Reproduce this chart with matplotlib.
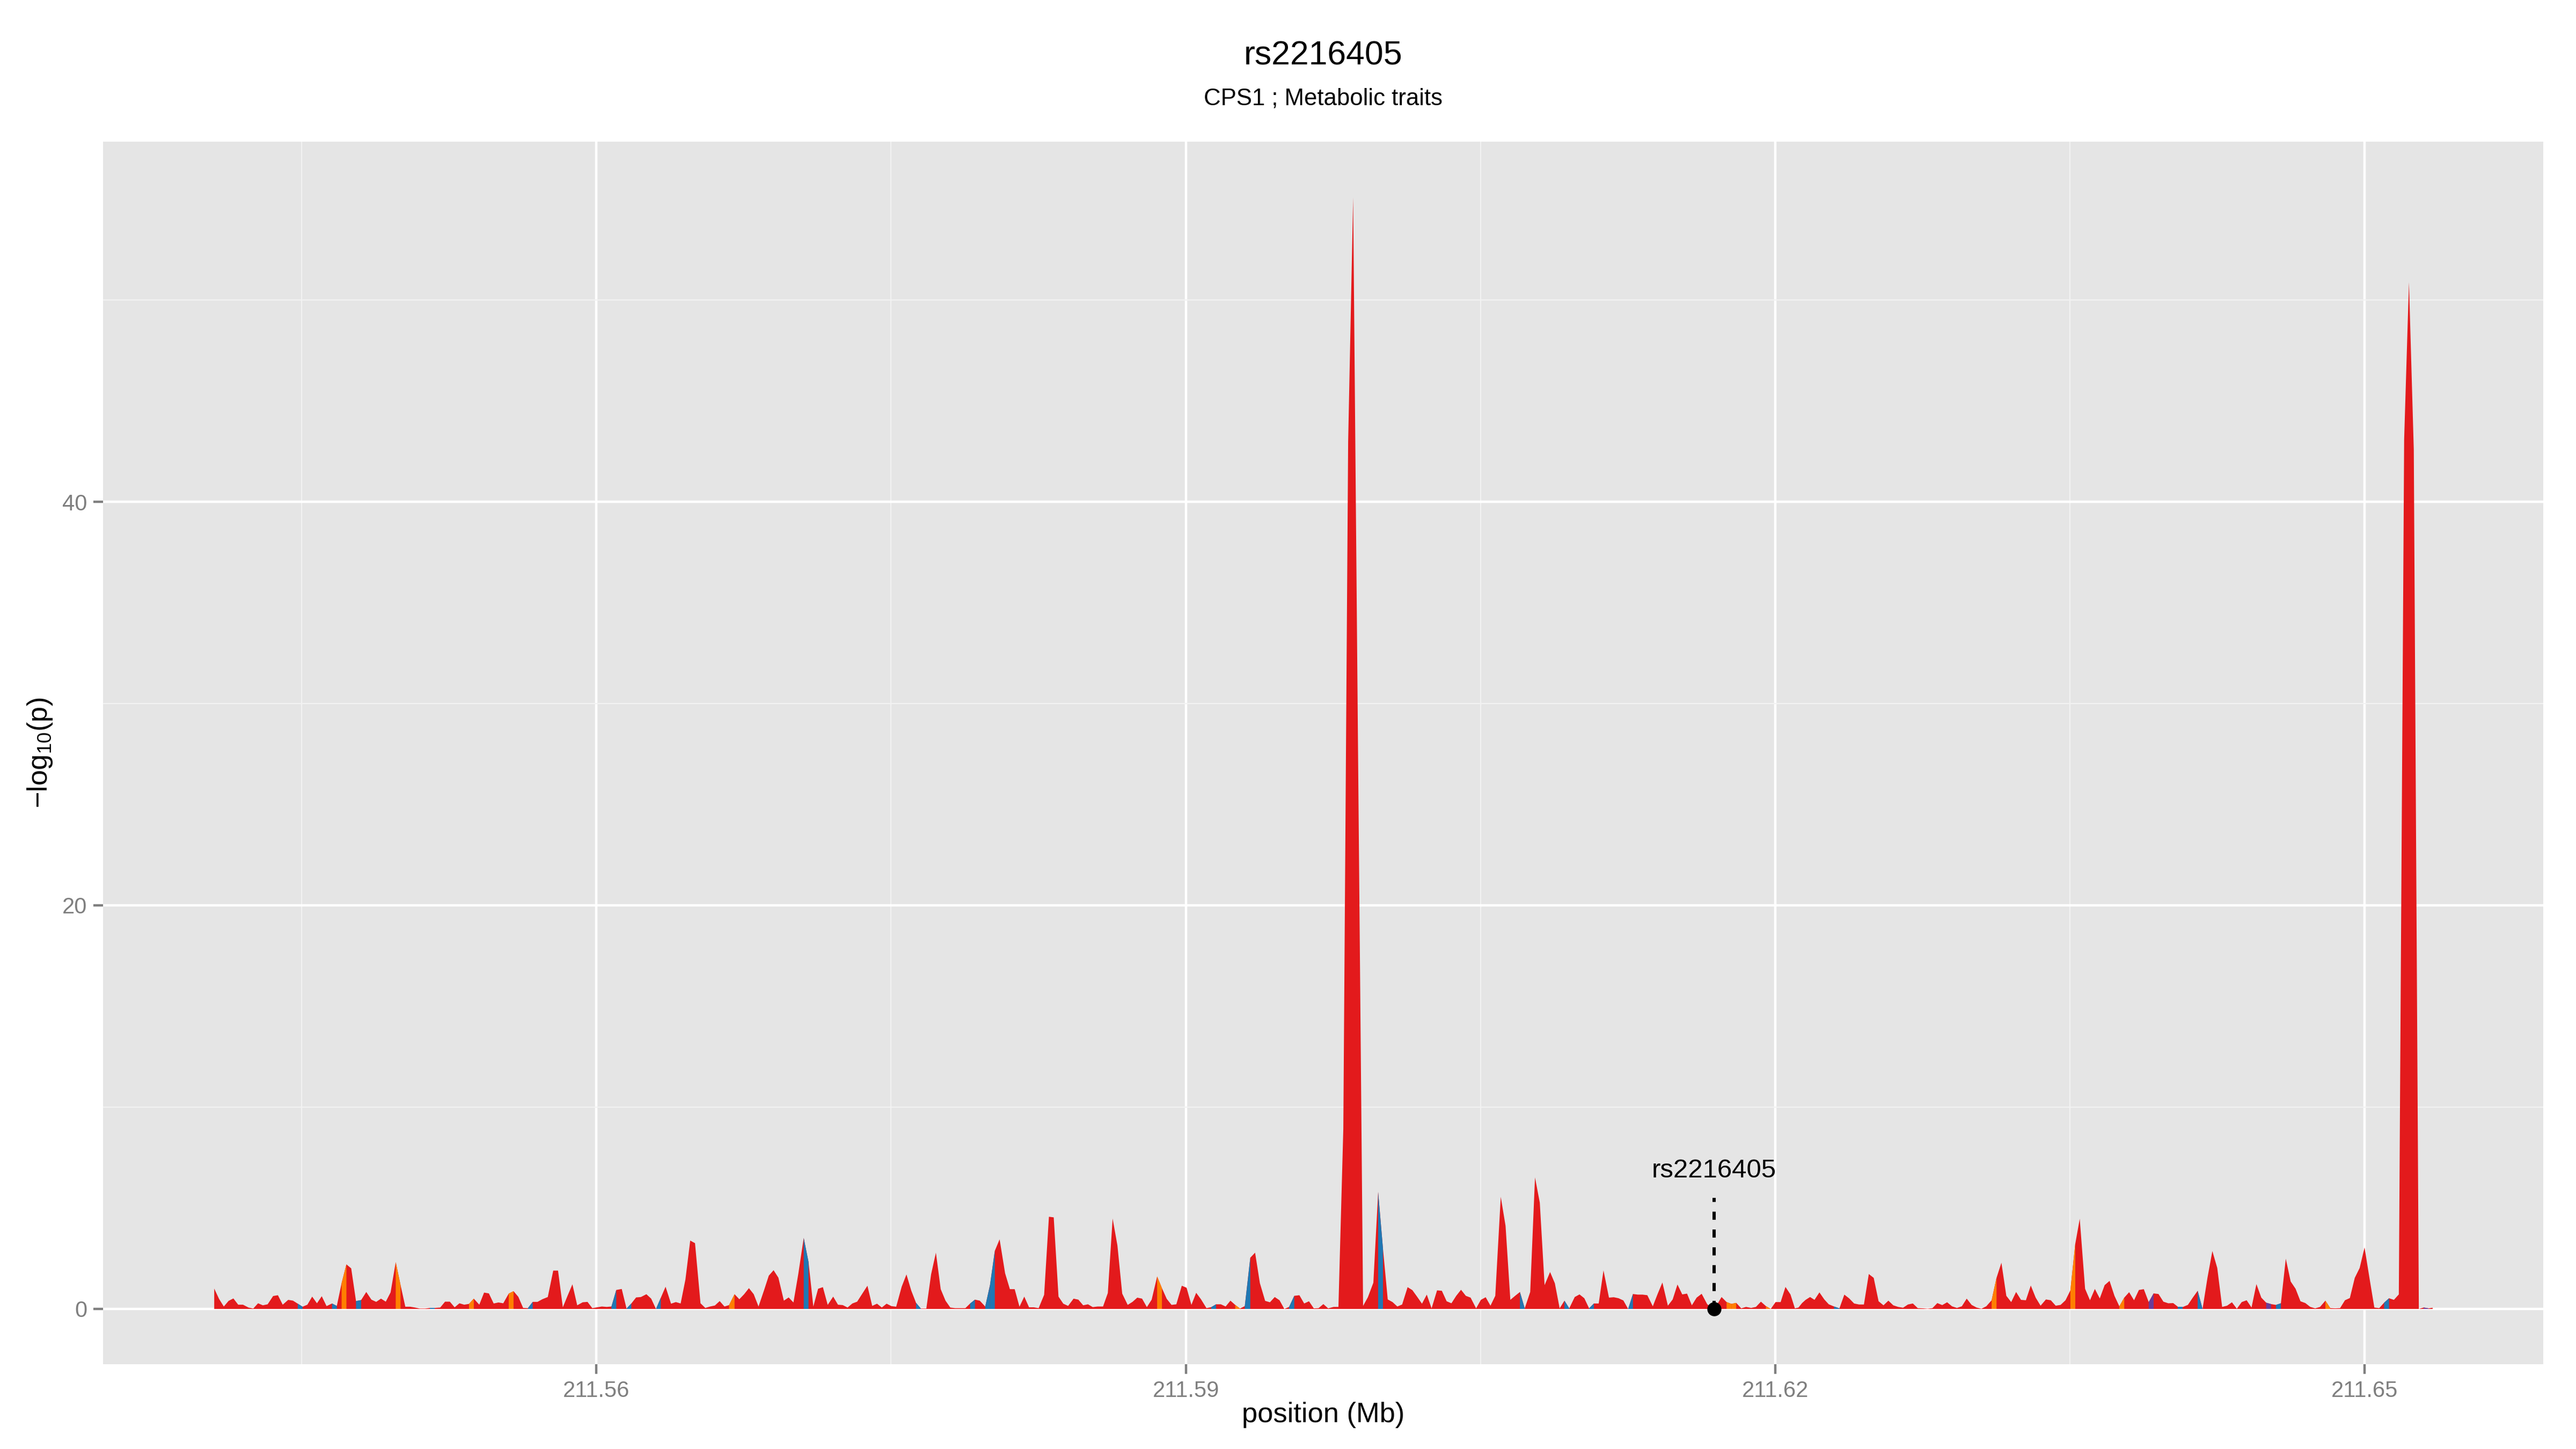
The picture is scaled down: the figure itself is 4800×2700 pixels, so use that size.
import numpy as np
import matplotlib
matplotlib.use('Agg')
import matplotlib.pyplot as plt

plt.rcParams['font.family'] = ['Liberation Sans', 'DejaVu Sans']
plt.rcParams['mathtext.fontset'] = 'custom'
plt.rcParams['mathtext.rm'] = 'Liberation Sans'

# --- data ---
title = 'rs2216405'
subtitle = 'CPS1 ; Metabolic traits'
x_label = 'position (Mb)'
y_label = r'$\mathregular{-log_{10}(p)}$'

x_ticks = [211.56, 211.59, 211.62, 211.65]
x_tick_labels = ['211.56', '211.59', '211.62', '211.65']
x_minor = [211.545, 211.575, 211.605, 211.635]
y_ticks = [0, 20, 40]
y_minor = [10, 30, 50]

# SNP position (bp) and -log10(p)
snp_pos = [
    211540534, 211540778, 211541022, 211541266, 211541510, 211541754, 211541998, 211542277,
    211542521, 211542765, 211543009, 211543253, 211543532, 211543776, 211544020, 211544299,
    211544543, 211544787, 211545031, 211545275, 211545519, 211545763, 211546007, 211546251,
    211546530, 211546774, 211547018, 211547262, 211547506, 211547750, 211548011, 211548273,
    211548534, 211548778, 211549022, 211549266, 211549510, 211549772, 211550016, 211550260,
    211550504, 211550748, 211550992, 211551271, 211551515, 211551759, 211552037, 211552282,
    211552526, 211552770, 211553014, 211553258, 211553502, 211553746, 211554025, 211554269,
    211554513, 211554757, 211555001, 211555245, 211555523, 211555768, 211556012, 211556256,
    211556500, 211556744, 211556988, 211557232, 211557511, 211557789, 211558033, 211558277,
    211558521, 211558765, 211559009, 211559288, 211559532, 211559776, 211560020, 211560264,
    211560508, 211560752, 211560997, 211561275, 211561519, 211561763, 211562007, 211562251,
    211562530, 211562774, 211563018, 211563262, 211563506, 211563785, 211564029, 211564273,
    211564517, 211564761, 211565005, 211565284, 211565528, 211565772, 211566016, 211566260,
    211566504,
    211566738, 211567017, 211567261, 211567505, 211567749, 211567993, 211568237, 211568516,
    211568760, 211569004, 211569248, 211569527, 211569771, 211570015, 211570259, 211570538,
    211570782, 211571026, 211571270, 211571514, 211571758, 211572037, 211572281, 211572525,
    211572769, 211573013, 211573257, 211573501, 211573780, 211574024, 211574268, 211574512,
    211574756, 211575000, 211575244, 211575523, 211575767, 211576011, 211576255, 211576499,
    211576778, 211577022, 211577266, 211577510, 211577754, 211577998, 211578242, 211578521,
    211578765, 211579009, 211579253, 211579497, 211579776, 211580020, 211580264, 211580508,
    211580787, 211581031, 211581275, 211581519, 211581763, 211582007, 211582251, 211582495,
    211582774, 211583018, 211583262, 211583506, 211583750, 211583994, 211584273, 211584517,
    211584761, 211585005, 211585249, 211585493, 211585772, 211586016, 211586260, 211586504,
    211586748, 211587027, 211587271, 211587515, 211587759, 211588003, 211588247, 211588526,
    211588770, 211589014, 211589258, 211589502, 211589781, 211590025, 211590269, 211590513,
    211590757, 211591036, 211591280, 211591524, 211591768, 211592012, 211592256, 211592500,
    211592744, 211592988, 211593267, 211593511, 211593755,
    211594023, 211594267, 211594511, 211594755, 211594999, 211595243, 211595505, 211595766,
    211596010, 211596254, 211596498, 211596742, 211596986, 211597230, 211597509, 211597753,
    211598002, 211598248, 211598502, 211598748, 211599008, 211599252, 211599531, 211599775,
    211600019, 211600263, 211600507, 211600751, 211600995, 211601274, 211601518, 211601762,
    211602006, 211602250, 211602494, 211602773, 211603017, 211603261, 211603505, 211603749,
    211603993, 211604237, 211604481, 211604760, 211605004, 211605248, 211605492, 211605736,
    211606015, 211606259, 211606503, 211606747, 211606991, 211607235, 211607514, 211607758,
    211608002, 211608246, 211608525, 211608769, 211609013, 211609257, 211609501, 211609780,
    211610024, 211610268, 211610512, 211610756, 211611000, 211611244, 211611523, 211611767,
    211612011, 211612255, 211612499, 211612743, 211612987, 211613231, 211613475, 211613754,
    211613998, 211614242, 211614521, 211614765, 211615009, 211615253, 211615497, 211615741,
    211615985, 211616240, 211616525, 211616888, 211617254, 211617509, 211617754, 211618000,
    211618254, 211618500, 211618757, 211619003, 211619257, 211619511, 211619757, 211620003,
    211620260, 211620506, 211620760, 211620986,
    211621169, 211621350, 211621531, 211621758, 211621984, 211622234, 211622483, 211622709,
    211622981, 211623253, 211623502, 211623751, 211624000, 211624249, 211624499, 211624748,
    211624997, 211625246, 211625495, 211625744, 211625993, 211626243, 211626492, 211626741,
    211626990, 211627239, 211627488, 211627738, 211627987, 211628236, 211628485, 211628734,
    211628983, 211629232, 211629482, 211629731, 211629980, 211630229, 211630478, 211630727,
    211630999, 211631248, 211631497, 211631747, 211631996, 211632245, 211632494, 211632743,
    211632992, 211633241, 211633491, 211633762, 211634012, 211634261, 211634510, 211634759,
    211635008, 211635257, 211635484, 211635756, 211636005, 211636254, 211636503, 211636752,
    211637001, 211637251, 211637500, 211637749, 211637998, 211638247, 211638496, 211638745,
    211638995, 211639244, 211639493, 211639742, 211639991, 211640240, 211640489, 211640739,
    211640988, 211641237, 211641486, 211641735, 211641984, 211642234, 211642483, 211642732,
    211642981, 211643230, 211643479, 211643728, 211643978, 211644227, 211644476, 211644725,
    211644974, 211645223, 211645472, 211645722, 211645971, 211646220, 211646469, 211646718,
    211646967, 211647217, 211647466, 211647715, 211647987, 211648236, 211648485, 211648734,
    211648983, 211649232, 211649482, 211649731, 211649980, 211650229, 211650478, 211650727,
    211650976, 211651226, 211651475, 211651724, 211651995, 211652240, 211652486, 211652743,
    211652990, 211653240, 211653445,
]

neglog_p = [
    1.01, 0.50, 0.12, 0.40, 0.52, 0.21, 0.21, 0.07,
    0.02, 0.28, 0.18, 0.23, 0.64, 0.68, 0.21, 0.45,
    0.41, 0.26, 0.11, 0.21, 0.61, 0.28, 0.63, 0.14,
    0.27, 0.15, 1.28, 2.21, 2.01, 0.39, 0.44, 0.84,
    0.46, 0.35, 0.51, 0.36, 0.82, 2.32, 1.19, 0.11,
    0.11, 0.07, 0.02, 0.02, 0.05, 0.05, 0.07, 0.36,
    0.36, 0.08, 0.28, 0.21, 0.25, 0.51, 0.21, 0.81,
    0.77, 0.27, 0.32, 0.28, 0.76, 0.88, 0.60, 0.05,
    0.04, 0.35, 0.35, 0.48, 0.59, 1.90, 1.90, 0.08,
    0.66, 1.22, 0.18, 0.33, 0.35, 0.04, 0.08, 0.12,
    0.10, 0.12, 0.94, 0.99, 0.02, 0.27, 0.57, 0.59,
    0.73, 0.51, 0.00, 0.55, 1.10, 0.26, 0.34, 0.27,
    1.46, 3.39, 3.26, 0.28, 0.05, 0.12, 0.17, 0.39,
    0.12,
    0.19, 0.73, 0.48, 0.73, 1.03, 0.73, 0.12, 0.92,
    1.65, 1.92, 1.55, 0.41, 0.57, 0.32, 1.72, 3.52,
    2.33, 0.12, 1.00, 1.08, 0.20, 0.61, 0.21, 0.19,
    0.07, 0.27, 0.36, 0.73, 1.15, 0.15, 0.26, 0.07,
    0.26, 0.14, 0.11, 1.10, 1.71, 0.91, 0.30, 0.02,
    0.02, 1.72, 2.79, 0.98, 0.41, 0.07, 0.04, 0.04,
    0.04, 0.27, 0.46, 0.41, 0.12, 1.19, 2.88, 3.45,
    1.77, 0.98, 0.98, 0.11, 0.61, 0.08, 0.08, 0.04,
    0.70, 4.57, 4.54, 0.61, 0.26, 0.15, 0.51, 0.46,
    0.18, 0.23, 0.09, 0.12, 0.12, 0.79, 4.48, 3.15,
    0.76, 0.20, 0.35, 0.56, 0.51, 0.09, 0.46, 1.61,
    1.03, 0.50, 0.20, 0.23, 1.15, 1.05, 0.20, 0.80,
    0.48, 0.04, 0.09, 0.23, 0.23, 0.12, 0.41, 0.20,
    0.02, 0.14, 2.54, 2.79, 1.28,
    0.40, 0.33, 0.59, 0.43, 0.00, 0.10, 0.65, 0.68,
    0.27, 0.38, 0.03, 0.04, 0.24, 0.03, 0.10, 0.10,
    8.93, 43.0, 55.1, 28.0, 0.15, 0.58, 1.30, 5.80,
    3.00, 0.47, 0.34, 0.12, 0.22, 1.08, 0.93, 0.60,
    0.26, 0.71, 0.03, 0.92, 0.90, 0.38, 0.28, 0.65,
    0.95, 0.65, 0.56, 0.03, 0.45, 0.58, 0.16, 0.65,
    5.56, 4.12, 0.45, 0.65, 0.84, 0.03, 0.84, 6.52,
    5.27, 1.18, 1.83, 1.27, 0.03, 0.41, 0.03, 0.59,
    0.72, 0.53, 0.03, 0.27, 0.27, 1.91, 0.56, 0.58,
    0.53, 0.42, 0.00, 0.74, 0.71, 0.71, 0.68, 0.13,
    0.74, 1.31, 0.16, 0.47, 1.21, 0.72, 0.76, 0.18,
    0.56, 0.75, 0.23, 0.00, 0.59, 0.34, 0.25, 0.30,
    0.03, 0.10, 0.05, 0.10, 0.36, 0.14, 0.00, 0.34,
    0.34, 1.09, 0.72, 0.03,
    0.07, 0.29, 0.45, 0.59, 0.45, 0.82, 0.47, 0.23,
    0.12, 0.03, 0.71, 0.52, 0.27, 0.22, 0.22, 1.73,
    1.54, 0.38, 0.18, 0.41, 0.18, 0.10, 0.06, 0.22,
    0.27, 0.04, 0.03, 0.01, 0.04, 0.29, 0.19, 0.33,
    0.13, 0.05, 0.13, 0.51, 0.20, 0.07, 0.01, 0.13,
    0.43, 1.54, 2.29, 0.65, 0.34, 0.84, 0.45, 0.43,
    1.16, 0.56, 0.16, 0.47, 0.43, 0.16, 0.20, 0.43,
    0.92, 3.23, 4.47, 1.00, 0.43, 0.99, 0.52, 1.18,
    1.39, 0.65, 0.13, 0.56, 0.83, 0.43, 0.94, 0.98,
    0.34, 0.77, 0.74, 0.36, 0.28, 0.29, 0.10, 0.10,
    0.20, 0.56, 0.90, 0.00, 1.54, 2.87, 2.03, 0.10,
    0.16, 0.33, 0.01, 0.34, 0.43, 0.07, 1.23, 0.56,
    0.31, 0.24, 0.20, 0.28, 2.49, 1.36, 1.00, 0.38,
    0.29, 0.10, 0.03, 0.10, 0.41, 0.04, 0.03, 0.04,
    0.43, 0.54, 1.54, 2.03, 3.05, 1.54, 0.07, 0.04,
    0.31, 0.53, 0.45, 0.72, 43.1, 50.9, 42.6, 0.00,
    0.07, 0.03, 0.06,
]

# SNPs whose interval is drawn in another LD colour
blue_snps = [
    211544787, 211546530, 211547750, 211551515, 211556500, 211560752, 211561519, 211563018,
    211570538, 211576255, 211579009, 211579776, 211580020, 211591280, 211592988,
    211595243, 211599775, 211606991, 211609257, 211610512, 211612499,
    211622981, 211640489, 211641486, 211645472, 211650976,
]
orange_snps = [
    211547018, 211549772, 211553502, 211555523, 211566738, 211588526, 211592500,
    211617509, 211617754, 211619511, 211630999, 211635008, 211637500, 211647987,
]
purple_snps = [211638995, 211644974, 211652990]

index_snp = 211616888
index_label = 'rs2216405'
label_y = 6.85
stem_top = 5.5

red = '#E31A1C'
blue = '#1F78B4'
orange = '#FF7F00'
purple = '#6A3D9A'

# --- plot ---
fig = plt.figure(figsize=(16, 9), dpi=300)
ax = fig.add_axes([0.04, 0.0585, 0.9473, 0.8437])
ax.set_facecolor('#E5E5E5')
for s in ax.spines.values():
    s.set_visible(False)

pos = np.array(snp_pos)
x = pos / 1e6
y = np.array(neglog_p)

ax.fill_between(x, y, 0, color=red, lw=0, zorder=2)
for col, group in ((blue, blue_snps), (orange, orange_snps), (purple, purple_snps)):
    for p in group:
        i = np.searchsorted(pos, p)
        ax.fill_between(x[i:i + 2], y[i:i + 2], 0, color=col, lw=0, zorder=3)

xi = index_snp / 1e6
ax.plot([xi, xi], [0, stem_top], color='black', lw=1.45, ls=(0, (2.5, 3)), zorder=4)
ax.plot(xi, 0, 'o', color='black', ms=5.3, zorder=5)
ax.text(xi, label_y, index_label, ha='center', va='center', fontsize=11.8, zorder=6)

xpad = 0.05 * (x.max() - x.min())
ax.set_xlim(x.min() - xpad, x.max() + xpad)
ypad = 0.05 * y.max()
ax.set_ylim(-ypad, y.max() + ypad)

ax.set_xticks(x_ticks)
ax.set_xticklabels(x_tick_labels)
ax.set_xticks(x_minor, minor=True)
ax.set_yticks(y_ticks)
ax.set_yticks(y_minor, minor=True)

ax.set_axisbelow(True)
ax.grid(which='major', color='white', lw=1.07)
ax.grid(which='minor', color='#F2F2F2', lw=0.53)
ax.tick_params(which='major', length=4.25, width=1.07, color='#7F7F7F',
               labelcolor='#7F7F7F', labelsize=10, pad=2.9)
ax.tick_params(which='minor', length=0)

cx = 0.04 + 0.9473 / 2
fig.text(cx, 0.9615, title, ha='center', va='center', fontsize=15)
fig.text(cx, 0.9318, subtitle, ha='center', va='center', fontsize=10.5)
fig.text(cx, 0.0237, x_label, ha='center', va='center', fontsize=12.6)
fig.text(0.0155, 0.4804, y_label, ha='center', va='center', rotation=90, fontsize=12.6)

fig.savefig('out.png', dpi=300)
